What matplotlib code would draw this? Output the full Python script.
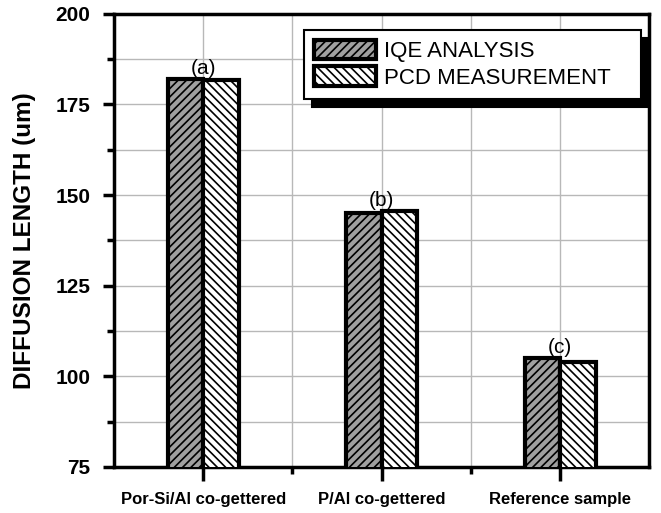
import numpy as np
import matplotlib
matplotlib.use("Agg")
import matplotlib.pyplot as plt
from matplotlib.ticker import MultipleLocator, FixedLocator

plt.rcParams["font.family"] = ["Liberation Sans", "DejaVu Sans"]
plt.rcParams["hatch.linewidth"] = 1.2

# data
samples = ["Por-Si/Al co-gettered", "P/Al co-gettered", "Reference sample"]
tags = ["(a)", "(b)", "(c)"]
iqe = [182.0, 145.0, 105.0]
pcd = [181.7, 145.7, 104.0]
series_names = ["IQE ANALYSIS", "PCD MEASUREMENT"]

fig = plt.figure(figsize=(6.61, 5.13), dpi=100)
ax = fig.add_axes([0.1725, 0.09, 0.81, 0.883])

x = np.arange(len(samples))
w = 0.2
ax.bar(x - w / 2, iqe, w, color="#a0a0a0", edgecolor="black",
       hatch="////", linewidth=3, label=series_names[0], zorder=3)
ax.bar(x + w / 2, pcd, w, color="white", edgecolor="black",
       hatch="\\\\\\\\", linewidth=3, label=series_names[1], zorder=3)

for xi, a, b, t in zip(x, iqe, pcd, tags):
    ax.text(xi, max(a, b) + 0.2, t, ha="center", va="bottom", fontsize=15)

ax.set_xlim(-0.5, 2.5)
ax.set_ylim(75, 200)
ax.yaxis.set_major_locator(MultipleLocator(25))
ax.yaxis.set_minor_locator(MultipleLocator(12.5))
ax.xaxis.set_major_locator(FixedLocator(x))
ax.xaxis.set_minor_locator(FixedLocator([0.5, 1.5]))
ax.set_xticklabels(samples, fontsize=12, fontweight="bold")
for lab in ax.get_yticklabels():
    lab.set_fontweight("bold")
ax.tick_params(axis="y", which="major", labelsize=15, length=8, width=2.5, pad=9)
ax.tick_params(axis="y", which="minor", length=5, width=2.5)
ax.tick_params(axis="x", which="major", length=10, width=2.5, pad=8)
ax.tick_params(axis="x", which="minor", length=5, width=2.5)

ax.set_axisbelow(True)
ax.grid(True, which="both", color="#b8b8b8", linewidth=1.0)
for s in ax.spines.values():
    s.set_linewidth(2.5)

ax.set_ylabel("DIFFUSION LENGTH (um)", fontsize=17.5, fontweight="bold")
ax.yaxis.set_label_coords(-0.146, 0.5)

leg = ax.legend(loc="upper left", bbox_to_anchor=(0.354, 0.965, 0.63, 0.0),
                mode="expand", fontsize=16,
                fancybox=False, framealpha=1, edgecolor="black",
                handlelength=2.8, handleheight=0.95, handletextpad=0.35,
                labelspacing=0.2, borderpad=0.45, borderaxespad=0,
                shadow={"ox": 6, "oy": -6, "facecolor": "black",
                        "edgecolor": "black", "alpha": 1})
leg.get_frame().set_linewidth(1.5)

fig.savefig("out.png", dpi=100)
